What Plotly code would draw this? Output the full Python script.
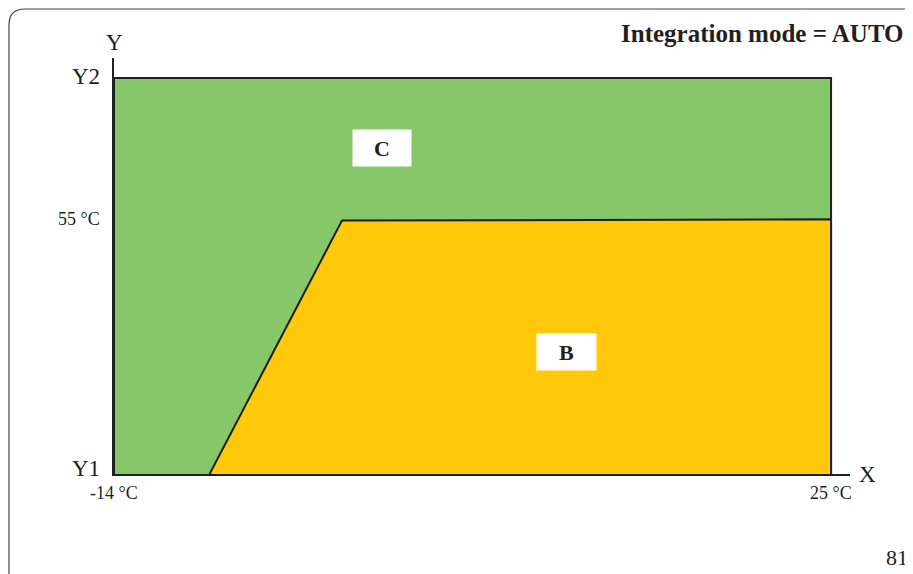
import plotly.graph_objects as go

# x in degrees C, y on a 0..100 scale between Y1 and Y2
x_limits = [-14, 25]
x_labels = ["-14 °C", "25 °C"]
y_levels = [0, 64, 100]
y_labels = ["Y1", "55 °C", "Y2"]

zone_c_x = [-14, -14, 25, 25]
zone_c_y = [0, 100, 100, 0]
zone_b_x = [-8.8, -1.6, 25, 25]
zone_b_y = [0, 64, 64.3, 0]

GREEN = "#86c869"
YELLOW = "#ffc90a"
INK = "#231f20"
SERIF = "Liberation Serif, Times New Roman, serif"

# the page body adds an 8px margin, so the figure starts at (8, 8)
OFF = 8
W, H = 913 - OFF, 574 - OFF
L, R, T, B = 106, 63, 50, 100

fig = go.Figure()
fig.add_trace(go.Scatter(
    x=zone_c_x, y=zone_c_y, mode="lines", fill="toself",
    fillcolor=GREEN, line=dict(color=INK, width=2), hoverinfo="skip",
))
fig.add_trace(go.Scatter(
    x=zone_b_x, y=zone_b_y, mode="lines", fill="toself",
    fillcolor=YELLOW, line=dict(color=INK, width=2), hoverinfo="skip",
))


def px(x, y):
    # screen pixel -> paper coordinates
    x, y = x - OFF, y - OFF
    return (x - L) / (W - L - R), (H - B - y) / (H - T - B)


# rounded frame around the page
x0, y0 = px(9, 9)
x1, _ = px(930, 0)
_, y1 = px(0, 590)
rx, _ = px(9 + 16, 0)
_, ry = px(0, 9 + 16)
path = f"M {x1},{y0} L {rx},{y0} Q {x0},{y0} {x0},{ry} L {x0},{y1}"
fig.add_shape(type="path", path=path, xref="paper", yref="paper",
              line=dict(color="#444", width=1.2))

ann = []
for v, t in zip(y_levels, y_labels):
    size = 18 if "°" in t else 23
    shift = 6 if t == "Y1" else 2
    ann.append(dict(x=-14, y=v, xref="x", yref="y", text=t, showarrow=False,
                    xanchor="right", xshift=-12, yshift=shift,
                    font=dict(family=SERIF, size=size, color=INK)))
for v, t in zip(x_limits, x_labels):
    ann.append(dict(x=v, y=0, xref="x", yref="y", text=t, showarrow=False,
                    yanchor="top", yshift=-7,
                    font=dict(family=SERIF, size=18, color=INK)))
ann.append(dict(x=0, y=1, xref="paper", yref="paper", text="Y", showarrow=False,
                xanchor="center", yanchor="bottom", yshift=1,
                font=dict(family=SERIF, size=23, color=INK)))
ann.append(dict(x=1, y=0, xref="paper", yref="y", text="X", showarrow=False,
                xanchor="left", xshift=7, yshift=0,
                font=dict(family=SERIF, size=23, color=INK)))
ann.append(dict(x=0.6, y=82.3, xref="x", yref="y", text="<b>C</b>", showarrow=False,
                bgcolor="white", width=56, height=34,
                font=dict(family=SERIF, size=22, color=INK)))
ann.append(dict(x=10.6, y=30.8, xref="x", yref="y", text="<b>B</b>", showarrow=False,
                bgcolor="white", width=57, height=34,
                font=dict(family=SERIF, size=22, color=INK)))
ann.append(dict(x=906, y=33, xref="paper", yref="paper", text="<b>Integration mode = AUTO</b>",
                showarrow=False, xanchor="right", yanchor="middle",
                font=dict(family=SERIF, size=25, color=INK)))
ann.append(dict(x=910, y=557, xref="paper", yref="paper", text="81",
                showarrow=False, xanchor="right", yanchor="middle",
                font=dict(family=SERIF, size=22, color=INK)))

# convert the two page-level labels from pixel positions
for a in ann[-2:]:
    a["x"], a["y"] = px(a["x"], a["y"])

fig.update_layout(
    width=W, height=H,
    margin=dict(l=L, r=R, t=T, b=B),
    paper_bgcolor="white", plot_bgcolor="white",
    showlegend=False,
    annotations=ann,
    xaxis=dict(range=[-14, 26.03], showgrid=False, zeroline=False,
               showticklabels=False, ticks="", showline=True,
               linecolor=INK, linewidth=2, fixedrange=True),
    yaxis=dict(range=[0, 105.05], showgrid=False, zeroline=False,
               showticklabels=False, ticks="", showline=True,
               linecolor=INK, linewidth=2, fixedrange=True),
)

fig.write_html("out.html")
